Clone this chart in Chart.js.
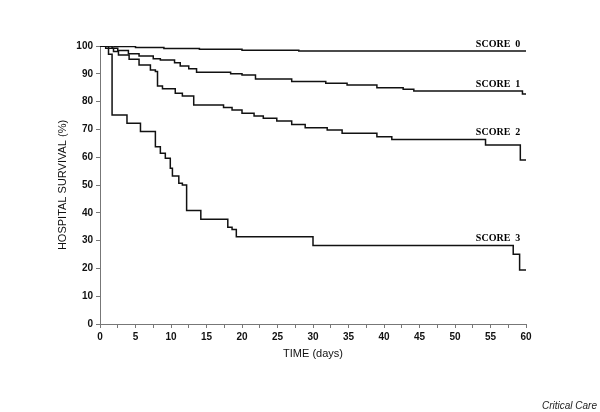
<!DOCTYPE html>
<html>
<head>
<meta charset="utf-8">
<script src="https://cdn.jsdelivr.net/npm/chart.js@4/dist/chart.umd.min.js"></script>
<style>
  body { margin: 0; background: #fff; }
  #wrap { position: relative; width: 600px; height: 412px; }
  #source {
    position: absolute; right: 3px; bottom: 1px;
    font: italic 10px "Liberation Sans", Arial, sans-serif; color: #222;
  }
</style>
</head>
<body>
<div id="wrap">
  <canvas id="survivalChart"></canvas>
  <div id="source">Critical Care</div>
</div>
<script>
// Kaplan-Meier style curves: time of each step (days) and survival (%) after it
const score0Days = [0, 2, 5, 9, 14, 20, 28, 60];
const score0Surv = [100, 99.8, 99.5, 99.1, 98.8, 98.5, 98.2, 98.2];

const score1Days = [0, 1.7, 2.5, 4, 5.5, 7.5, 8.5, 10.5, 11.3, 12.5, 13.6, 18.4, 20, 21.9, 27, 31.8, 34.8, 39, 42.7, 44.2, 59.5, 60];
const score1Surv = [100, 99.2, 98.4, 97.2, 96.4, 95.4, 95, 94, 92.8, 91.8, 90.6, 90, 89.6, 88.1, 87.2, 86.6, 86, 85, 84.4, 83.8, 82.7, 82.7];

const score2Days = [0, 0.8, 1.9, 2.6, 4.1, 5.5, 7.1, 7.8, 8.1, 8.8, 10.6, 11.6, 13.2, 17.4, 18.6, 20, 21.7, 23, 24.9, 27, 28.9, 32, 34.1, 39, 41.1, 54.3, 59.2, 60];
const score2Surv = [100, 99.2, 98, 96.8, 95.2, 93.2, 91.4, 90.8, 85.6, 84.6, 83, 82, 78.8, 77.9, 77, 75.8, 74.8, 74, 73, 71.8, 70.6, 69.8, 68.6, 67.4, 66.4, 64.4, 59, 59];

const score3Days = [0, 1.2, 1.7, 3.8, 5.7, 7.8, 8.5, 9.2, 9.9, 10.2, 11.1, 11.6, 12.2, 14.2, 18, 18.6, 19.2, 30, 58.2, 59.1, 60];
const score3Surv = [100, 97, 75.2, 72.2, 69.2, 63.8, 61.4, 59.6, 56, 53.2, 50.6, 50, 40.8, 37.7, 34.8, 34, 31.4, 28.2, 25.1, 19.4, 19.4];

const seriesNames = ['SCORE  0', 'SCORE  1', 'SCORE  2', 'SCORE  3'];
const labelDay = 59.2;
const labelLevel = [98.2, 83.8, 66.4, 28.2];

function toPoints(days, surv) {
    return days.map((d, i) => ({ x: d, y: surv[i] }));
}

const allDays = [score0Days, score1Days, score2Days, score3Days];
const allSurv = [score0Surv, score1Surv, score2Surv, score3Surv];

const curveLabels = {
    id: 'curveLabels',
    afterDatasetsDraw(chart) {
        const c = chart.ctx;
        const x = chart.scales.x.getPixelForValue(labelDay);
        c.save();
        c.font = 'bold 10px "Liberation Serif", "Times New Roman", serif';
        c.fillStyle = '#000';
        c.textAlign = 'right';
        c.textBaseline = 'bottom';
        seriesNames.forEach((name, i) => {
            const y = chart.scales.y.getPixelForValue(labelLevel[i]);
            c.fillText(name, x, y - 2);
        });
        c.restore();
    }
};

const tickFont = { family: '"Liberation Sans Narrow", "Liberation Sans", Arial, sans-serif', size: 10, weight: 'bold' };
const titleFont = { family: '"Liberation Sans", Arial, sans-serif', size: 11 };

const ctx = document.getElementById('survivalChart').getContext('2d');
const survivalChart = new Chart(ctx, {
    type: 'line',
    data: {
        datasets: seriesNames.map((name, i) => ({
            label: name,
            data: toPoints(allDays[i], allSurv[i]),
            stepped: true,
            borderColor: '#111',
            borderWidth: 1.5,
            pointRadius: 0,
            fill: false,
        }))
    },
    options: {
        responsive: true,
        maintainAspectRatio: false,
        animation: false,
        layout: {
            padding: { top: 46, right: 74, left: 0, bottom: 0 }
        },
        scales: {
            x: {
                type: 'linear',
                min: 0,
                max: 60,
                afterFit: (scale) => { scale.height = 88; },
                ticks: {
                    stepSize: 2.5,
                    color: '#111',
                    font: tickFont,
                    padding: 3,
                    maxRotation: 0,
                    autoSkip: false,
                    callback: (v) => (v % 5 === 0 ? v : ''),
                },
                grid: {
                    drawOnChartArea: false,
                    tickLength: 4,
                    color: '#777',
                },
                border: { color: '#777', width: 1 },
                title: {
                    display: true,
                    text: 'TIME (days)',
                    color: '#111',
                    font: titleFont,
                    padding: { top: 0, bottom: 51 },
                }
            },
            y: {
                min: 0,
                max: 100,
                afterFit: (scale) => { scale.width = 100; },
                ticks: {
                    stepSize: 10,
                    color: '#111',
                    font: tickFont,
                    padding: 3,
                },
                grid: {
                    drawOnChartArea: false,
                    tickLength: 4,
                    color: '#777',
                },
                border: { color: '#777', width: 1 },
                title: {
                    display: true,
                    text: 'HOSPITAL SURVIVAL (%)',
                    color: '#111',
                    font: titleFont,
                    padding: { top: 56, bottom: 0 },
                }
            }
        },
        plugins: {
            legend: { display: false },
            tooltip: { enabled: false }
        }
    },
    plugins: [curveLabels]
});
</script>
</body>
</html>
